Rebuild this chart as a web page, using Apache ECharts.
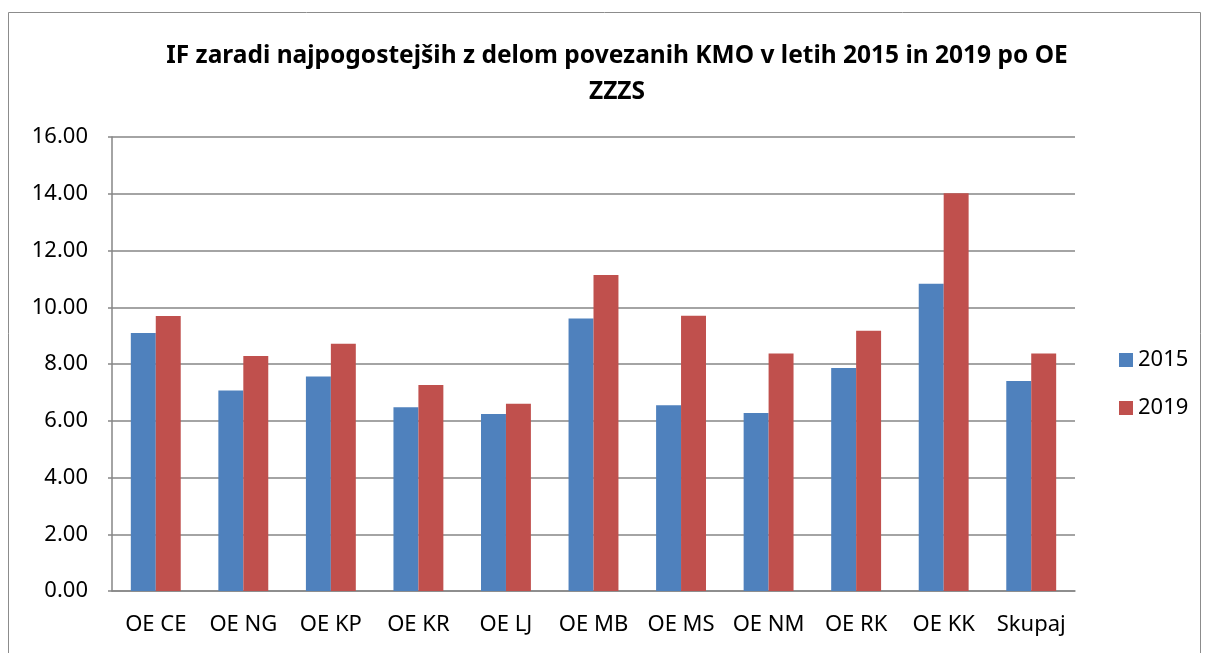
<!DOCTYPE html>
<html>
<head>
<meta charset="utf-8">
<script src="https://cdn.jsdelivr.net/npm/echarts@6/dist/echarts.min.js"></script>
<style>
  html, body { margin: 0; padding: 0; background: #fff; }
  #chart { width: 1208px; height: 653px; }
</style>
</head>
<body>
<div id="chart"></div>
<script>
// IF by regional unit (OE), years 2015 and 2019
const categories = ['OE CE', 'OE NG', 'OE KP', 'OE KR', 'OE LJ', 'OE MB', 'OE MS', 'OE NM', 'OE RK', 'OE KK', 'Skupaj'];
const values2015 = [9.09, 7.07, 7.56, 6.48, 6.24, 9.60, 6.55, 6.27, 7.86, 10.83, 7.40];
const values2019 = [9.69, 8.28, 8.71, 7.26, 6.60, 11.14, 9.70, 8.37, 9.17, 14.02, 8.37];
const seriesNames = ['2015', '2019'];

const FONT = '"Noto Sans", "Open Sans", sans-serif';

const chart = echarts.init(document.getElementById('chart'), null, { renderer: 'canvas' });

chart.setOption({
  animation: false,
  backgroundColor: '#ffffff',
  title: {
    text: 'IF zaradi najpogostejših z delom povezanih KMO v letih 2015 in 2019 po OE\nZZZS',
    left: 612,
    textAlign: 'center',
    top: 33,
    textStyle: {
      fontFamily: FONT,
      fontWeight: 'bold',
      fontSize: 24.5,
      lineHeight: 36,
      color: '#000'
    }
  },
  legend: {
    orient: 'vertical',
    left: 1114,
    top: 344,
    itemWidth: 14,
    itemHeight: 14,
    itemGap: 26,
    icon: 'rect',
    textStyle: { fontFamily: FONT, fontSize: 22, color: '#000' },
    data: seriesNames
  },
  grid: { left: 112, right: 133, top: 137, bottom: 62, containLabel: false },
  xAxis: {
    type: 'category',
    data: categories,
    axisLine: { lineStyle: { color: '#868686', width: 1.5 } },
    axisTick: { show: false },
    axisLabel: { fontFamily: FONT, fontSize: 22, color: '#000', margin: 23, interval: 0 }
  },
  yAxis: {
    type: 'value',
    min: 0,
    max: 16,
    interval: 2,
    axisLine: { show: true, lineStyle: { color: '#868686', width: 1.5 } },
    axisTick: { show: true, length: 4, lineStyle: { color: '#868686', width: 1.5 } },
    axisLabel: {
      fontFamily: FONT, fontSize: 22, color: '#000', margin: 24,
      formatter: v => v.toFixed(2)
    },
    splitLine: { lineStyle: { color: '#868686', width: 1.5 } }
  },
  series: [
    {
      name: seriesNames[0],
      type: 'bar',
      data: values2015,
      barGap: '0%',
      barCategoryGap: '43%',
      itemStyle: { color: '#4F81BD' }
    },
    {
      name: seriesNames[1],
      type: 'bar',
      data: values2019,
      itemStyle: { color: '#C0504D' }
    }
  ],
  graphic: [
    {
      type: 'rect',
      shape: { x: 8.5, y: 12.5, width: 1192, height: 660 },
      style: { fill: 'none', stroke: '#8c8c8c', lineWidth: 1 },
      silent: true
    }
  ]
});
</script>
</body>
</html>
